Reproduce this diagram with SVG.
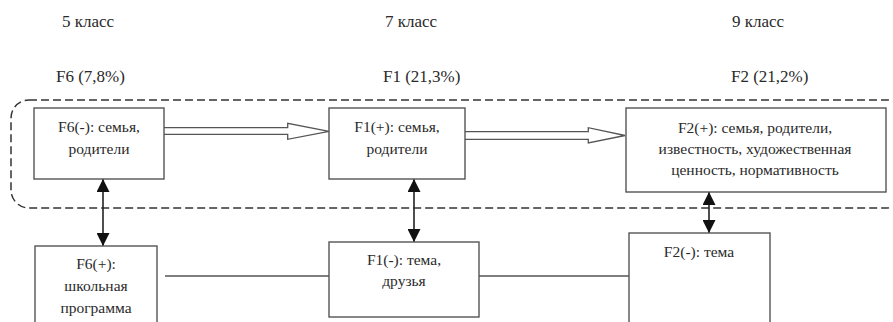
<svg xmlns="http://www.w3.org/2000/svg" width="893" height="322" viewBox="0 0 893 322">
<style>
.hdr{font-size:17px}
.lbl{font-size:15.5px;text-anchor:middle}
.box{fill:#fff;stroke:#555;stroke-width:1.4}
.line{fill:none;stroke:#555;stroke-width:1.4}
.dbl{fill:none;stroke:#222;stroke-width:1.6}
.hollow{fill:#fff;stroke:#555;stroke-width:1.3}
.dash{fill:none;stroke:#333;stroke-width:1.5;stroke-dasharray:8 4}
</style>
<defs>
<marker id="ah" viewBox="0 0 10 10" refX="10" refY="5" markerWidth="13" markerHeight="13" markerUnits="userSpaceOnUse" orient="auto-start-reverse">
<path d="M0,0 L10,5 L0,10 Z" fill="#111"/>
</marker>
</defs>
<rect width="893" height="322" fill="#fff"/>
<g font-family="Liberation Serif, Times New Roman, serif" fill="#2a2a2a">
<g id="headers">
<text class="hdr" x="62" y="27">5 класс</text>
<text class="hdr" x="385" y="27">7 класс</text>
<text class="hdr" x="732" y="27">9 класс</text>
<text class="hdr" x="56" y="82">F6 (7,8%)</text>
<text class="hdr" x="383" y="82">F1 (21,3%)</text>
<text class="hdr" x="731" y="82">F2 (21,2%)</text>
</g>
<g id="group-frame">
<rect class="dash" x="11" y="100" width="894" height="108" rx="18" ry="18"/>
</g>
<g id="connectors">
<path class="hollow" d="M164,127.7 H287.7 V123.3 L329,131.3 L287.7,139.3 V134.3 H164"/>
<path class="hollow" d="M465,131.7 H588.3 V127.7 L625,135.5 L588.3,143 V139.3 H465"/>
<line class="dbl" x1="103" y1="179" x2="103" y2="246" marker-start="url(#ah)" marker-end="url(#ah)"/>
<line class="dbl" x1="414" y1="179" x2="414" y2="242" marker-start="url(#ah)" marker-end="url(#ah)"/>
<line class="dbl" x1="709" y1="192" x2="709" y2="233" marker-start="url(#ah)" marker-end="url(#ah)"/>
<line class="line" x1="165" y1="276" x2="329" y2="276"/>
<line class="line" x1="479" y1="276" x2="629" y2="276"/>
</g>
<g id="node-f6-minus">
<rect class="box" x="34" y="108" width="130" height="71"/>
<text class="lbl" x="99" y="132">F6(-): семья,</text>
<text class="lbl" x="99" y="154">родители</text>
</g>
<g id="node-f1-plus">
<rect class="box" x="329" y="108" width="136" height="71"/>
<text class="lbl" x="397" y="132">F1(+): семья,</text>
<text class="lbl" x="397" y="154">родители</text>
</g>
<g id="node-f2-plus">
<rect class="box" x="626" y="108" width="260" height="84"/>
<text class="lbl" x="755" y="133">F2(+): семья, родители,</text>
<text class="lbl" x="755" y="154">известность, художественная</text>
<text class="lbl" x="755" y="175">ценность, нормативность</text>
</g>
<g id="node-f6-plus">
<rect class="box" x="35" y="246" width="122" height="90"/>
<text class="lbl" x="96" y="269">F6(+):</text>
<text class="lbl" x="96" y="291">школьная</text>
<text class="lbl" x="96" y="313">программа</text>
</g>
<g id="node-f1-minus">
<rect class="box" x="329" y="242" width="150" height="75"/>
<text class="lbl" x="404" y="265">F1(-): тема,</text>
<text class="lbl" x="404" y="286">друзья</text>
</g>
<g id="node-f2-minus">
<rect class="box" x="629" y="233" width="141" height="100"/>
<text class="lbl" x="699" y="257">F2(-): тема</text>
</g>
</g>
</svg>
